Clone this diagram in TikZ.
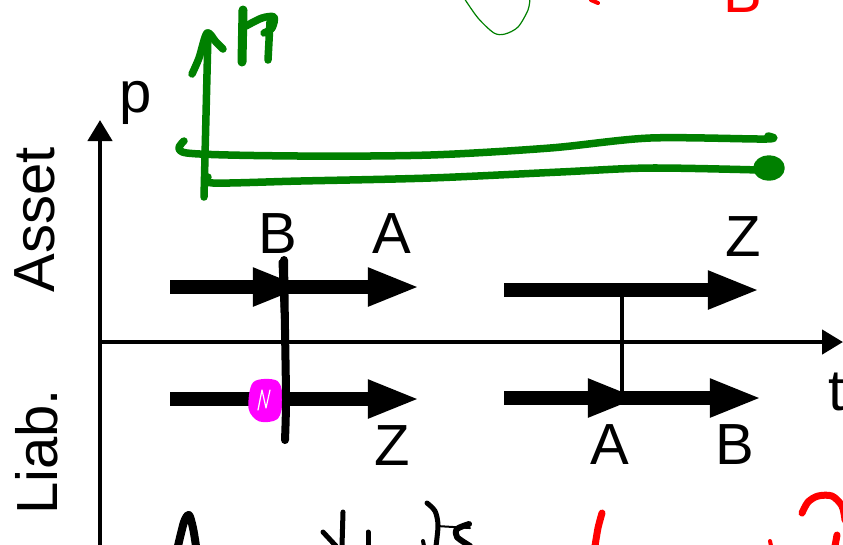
\documentclass[tikz,border=0pt]{standalone}
\usepackage{fontspec}
\setmainfont{Liberation Sans}
\usetikzlibrary{arrows.meta, positioning}
\definecolor{inkgreen}{RGB}{0,128,0}
\definecolor{inkred}{RGB}{255,0,0}
\definecolor{inkmagenta}{RGB}{255,0,255}

\begin{document}
\begin{tikzpicture}[
    x=0.01cm, y=-0.01cm,
    lbl/.style={font=\fontsize{16.5}{18}\selectfont, inner sep=0pt},
    axis/.style={line width=0.045cm, -{Triangle[length=0.21cm, width=0.24cm]}},
    flow/.style={line width=0.14cm, -{Triangle[length=0.52cm, width=0.35cm]}},
    link/.style={line width=0.04cm},
    ink/.style={line cap=round, line join=round},
    greenink/.style={ink, draw=inkgreen, line width=0.075cm},
    blackink/.style={ink, draw=black, line width=0.08cm},
    redink/.style={ink, draw=inkred, line width=0.07cm}
]
\useasboundingbox (0,0) rectangle (843,544);

% axes
\coordinate (origin) at (98,342);
\coordinate (ptop) at (100,120);
\coordinate (pbot) at (100,560);
\coordinate (tend) at (843,342);
\draw[axis] (pbot) -- (ptop);
\draw[axis] (origin) -- (tend);
\node[lbl] (plbl) at (136,103) {p};
\node[lbl] (tlbl) at (837,392) {t};
\node[lbl, rotate=90] (asset) at (35,220) {Asset};
\node[lbl, rotate=90] (liab) at (37,452) {Liab.};

% asset side
\coordinate (al0) at (170,287);
\coordinate (alB) at (305,287);
\coordinate (alA) at (420,287);
\coordinate (ar0) at (504,290);
\coordinate (arZ) at (760,290);
\draw[flow] (al0) -- (alA);
\draw[flow] (al0) -- (alB);
\draw[flow] (ar0) -- (arZ);
\node[lbl] (lblB1) at (278,234) {B};
\node[lbl] (lblA1) at (392,234) {A};
\node[lbl] (lblZ1) at (743,237) {Z};

% liability side
\coordinate (ll0) at (170,399);
\coordinate (llZ) at (420,399);
\coordinate (lr0) at (504,398);
\coordinate (lrA) at (640,398);
\coordinate (lrB) at (762,398);
\draw[flow] (ll0) -- (llZ);
\draw[flow] (lr0) -- (lrB);
\draw[flow] (lr0) -- (lrA);
\node[lbl] (lblZ2) at (392,446) {Z};
\node[lbl] (lblA2) at (610,445) {A};
\node[lbl] (lblB2) at (735,445) {B};

% swap link
\coordinate (swapA) at (622,290);
\coordinate (swapL) at (622,398);
\draw[link] (swapA) -- (swapL);

% handwritten: black stroke and magenta mark
\draw[ink, draw=inkmagenta, line width=0.05cm, fill=inkmagenta]
  plot[smooth cycle] coordinates {(255,384) (276,383) (280,400) (276,417) (260,419) (251,408)};
\draw[ink, draw=white, line width=0.012cm] (258,410) -- (262,390) -- (266,408) -- (270,390);
\draw[blackink] plot[smooth] coordinates {(284,260) (285,330) (286,400) (285,440)};
\draw[blackink, line width=0.05cm] (281,262) -- (284,330);

% handwritten: green
\draw[greenink] (204,197) -- (208,33);
\draw[greenink] plot[smooth] coordinates {(192,74) (199,58) (207,33) (216,42) (223,49)};
\draw[greenink, line width=0.09cm] (243,10) -- (242,62);
\draw[greenink] plot[smooth] coordinates {(246,26) (262,18) (274,17) (272,28) (264,33)};
\draw[greenink] (270,22) -- (268,60);
\draw[greenink] plot[smooth] coordinates {(184,141) (187,153) (300,156) (430,155) (550,148) (650,138) (766,139) (768,136)};
\draw[greenink] plot[smooth] coordinates {(208,177) (213,183) (300,181) (430,178) (560,172) (650,168) (760,170)};
\draw[greenink, fill=inkgreen] (769,168) ellipse [x radius=12, y radius=9];
\draw[ink, draw=inkgreen, line width=0.012cm] plot[smooth] coordinates {(464,-2) (478,18) (494,33) (505,34) (518,27) (528,10) (530,-2)};

% handwritten: red top
\node[lbl, text=inkred, anchor=south] (redB) at (743,13) {B};
\draw[redink, line width=0.04cm] (591,0) -- (598,3);

% handwritten: bottom
\draw[blackink] plot[smooth] coordinates {(178,546) (184,522) (189,515) (193,528) (196,546)};
\draw[blackink, line width=0.05cm] (323,532) -- (336,546);
\draw[blackink, line width=0.05cm] (343,512) -- (342,546);
\draw[blackink, line width=0.05cm] (368,532) -- (368,546);
\draw[blackink, line width=0.04cm] (423,541) -- (424,546);
\draw[blackink, line width=0.05cm] plot[smooth] coordinates {(427,503) (435,511) (438,525) (436,546)};
\draw[blackink, line width=0.02cm] (437,526) -- (470,528);
\draw[blackink, line width=0.06cm] plot[smooth] coordinates {(469,524) (457,529) (457,537) (470,546)};
\draw[redink] plot[smooth] coordinates {(602,513) (598,528) (595,546)};
\draw[redink] plot[smooth] coordinates {(802,513) (808,502) (818,496) (832,496) (842,506) (845,520)};
\draw[redink] (837,535) -- (835,546);
\draw[redink, line width=0.04cm] (770,541) -- (771,546);
\end{tikzpicture}
\end{document}
